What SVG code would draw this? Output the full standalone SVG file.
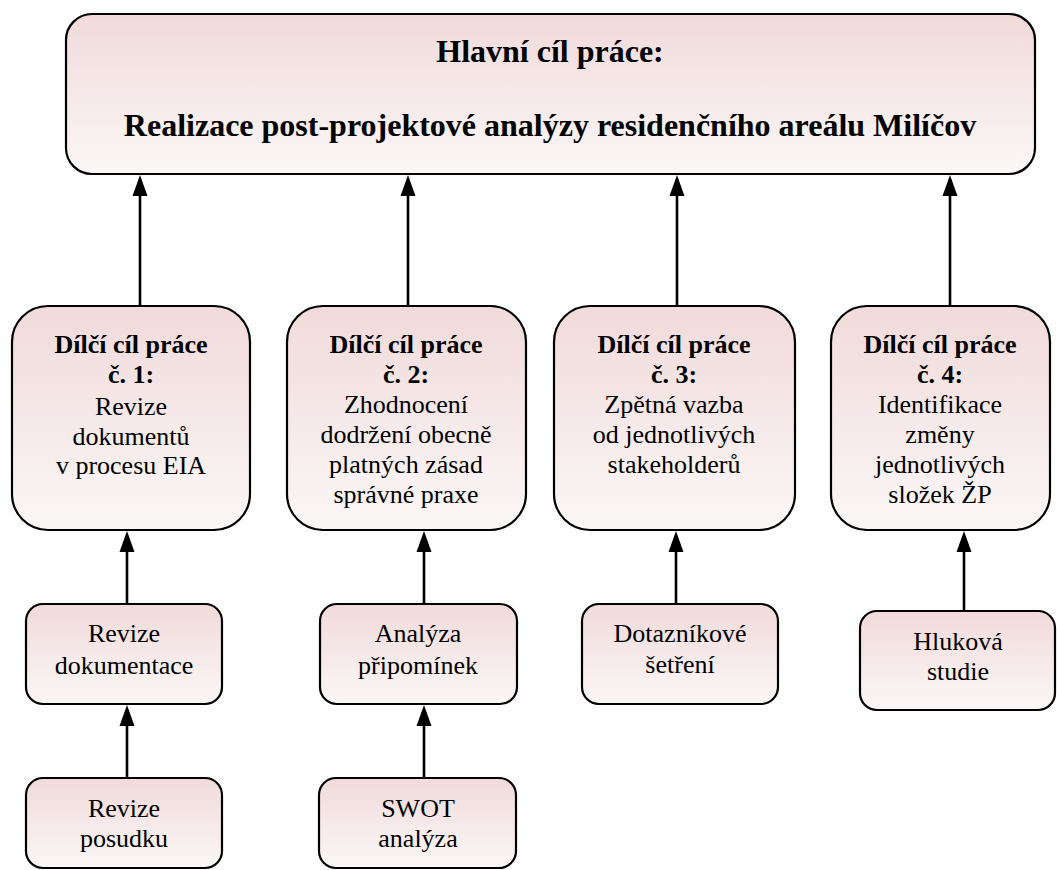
<svg xmlns="http://www.w3.org/2000/svg" width="1057" height="870" viewBox="0 0 1057 870">
<defs>
<linearGradient id="g" x1="0" y1="0" x2="0" y2="1">
<stop offset="0" stop-color="#F1DADA"/>
<stop offset="1" stop-color="#FBF7F7"/>
</linearGradient>
<marker id="ah" markerUnits="userSpaceOnUse" markerWidth="16" markerHeight="22" viewBox="0 0 16 22" refX="8" refY="1" orient="auto-start-reverse">
<path d="M8,0 L15.5,21 L0.5,21 Z" fill="#000"/>
</marker>
</defs>
<style>
.box{fill:url(#g);stroke:#000;stroke-width:2.2}
.t{font-family:"Liberation Serif","Times New Roman",serif;font-size:26px;fill:#000;text-anchor:middle}
.b{font-weight:bold}
.h{font-family:"Liberation Serif","Times New Roman",serif;font-size:32px;font-weight:bold;fill:#000;text-anchor:middle}
.c{stroke:#000;stroke-width:2.6;fill:none}
</style>
<rect width="1057" height="870" fill="#fff"/>
<g id="connectors">
<line class="c" x1="140" y1="306" x2="140" y2="196"/>
<path d="M140,175 L147.5,196 L132.5,196 Z"/>
<line class="c" x1="408" y1="306" x2="408" y2="196"/>
<path d="M408,175 L415.5,196 L400.5,196 Z"/>
<line class="c" x1="677" y1="306" x2="677" y2="196"/>
<path d="M677,175 L684.5,196 L669.5,196 Z"/>
<line class="c" x1="950" y1="306" x2="950" y2="196"/>
<path d="M950,175 L957.5,196 L942.5,196 Z"/>
<line class="c" x1="127" y1="604" x2="127" y2="552"/>
<path d="M127,531 L134.5,552 L119.5,552 Z"/>
<line class="c" x1="424" y1="604" x2="424" y2="552"/>
<path d="M424,531 L431.5,552 L416.5,552 Z"/>
<line class="c" x1="676" y1="604" x2="676" y2="552"/>
<path d="M676,531 L683.5,552 L668.5,552 Z"/>
<line class="c" x1="964" y1="611" x2="964" y2="552"/>
<path d="M964,531 L971.5,552 L956.5,552 Z"/>
<line class="c" x1="127" y1="778" x2="127" y2="726"/>
<path d="M127,705 L134.5,726 L119.5,726 Z"/>
<line class="c" x1="424" y1="778" x2="424" y2="726"/>
<path d="M424,705 L431.5,726 L416.5,726 Z"/>
</g>
<g id="main">
<rect class="box" x="66" y="14" width="969" height="160" rx="26"/>
<text class="h" x="550" y="62">Hlavní cíl práce:</text>
<text class="h" x="550" y="136">Realizace post-projektové analýzy residenčního areálu Milíčov</text>
</g>
<g id="goal1">
<rect class="box" x="12" y="306" width="238" height="224" rx="36"/>
<text class="t b" x="131" y="353">Dílčí cíl práce</text>
<text class="t b" x="131" y="383">č. 1:</text>
<text class="t" x="131" y="415">Revize</text>
<text class="t" x="131" y="445">dokumentů</text>
<text class="t" x="131" y="474">v procesu EIA</text>
</g>
<g id="goal2">
<rect class="box" x="287" y="306" width="239" height="224" rx="36"/>
<text class="t b" x="406" y="353">Dílčí cíl práce</text>
<text class="t b" x="406" y="383">č. 2:</text>
<text class="t" x="406" y="413">Zhodnocení</text>
<text class="t" x="406" y="443">dodržení obecně</text>
<text class="t" x="406" y="473">platných zásad</text>
<text class="t" x="406" y="503">správné praxe</text>
</g>
<g id="goal3">
<rect class="box" x="554" y="306" width="241" height="224" rx="36"/>
<text class="t b" x="674" y="353">Dílčí cíl práce</text>
<text class="t b" x="674" y="383">č. 3:</text>
<text class="t" x="674" y="413">Zpětná vazba</text>
<text class="t" x="674" y="443">od jednotlivých</text>
<text class="t" x="674" y="473">stakeholderů</text>
</g>
<g id="goal4">
<rect class="box" x="831" y="306" width="219" height="224" rx="36"/>
<text class="t b" x="940" y="353">Dílčí cíl práce</text>
<text class="t b" x="940" y="383">č. 4:</text>
<text class="t" x="940" y="413">Identifikace</text>
<text class="t" x="940" y="443">změny</text>
<text class="t" x="940" y="473">jednotlivých</text>
<text class="t" x="940" y="503">složek ŽP</text>
</g>
<g id="revize-dokumentace">
<rect class="box" x="26" y="604" width="196" height="100" rx="17"/>
<text class="t" x="124" y="642">Revize</text>
<text class="t" x="124" y="674">dokumentace</text>
</g>
<g id="revize-posudku">
<rect class="box" x="26" y="778" width="196" height="90" rx="17"/>
<text class="t" x="124" y="817">Revize</text>
<text class="t" x="124" y="847">posudku</text>
</g>
<g id="analyza-pripominek">
<rect class="box" x="320" y="604" width="197" height="100" rx="17"/>
<text class="t" x="418" y="642">Analýza</text>
<text class="t" x="418" y="674">připomínek</text>
</g>
<g id="swot">
<rect class="box" x="319" y="778" width="197" height="90" rx="17"/>
<text class="t" x="418" y="817">SWOT</text>
<text class="t" x="418" y="847">analýza</text>
</g>
<g id="dotaznikove">
<rect class="box" x="582" y="604" width="196" height="100" rx="17"/>
<text class="t" x="680" y="642">Dotazníkové</text>
<text class="t" x="680" y="673">šetření</text>
</g>
<g id="hlukova">
<rect class="box" x="860" y="611" width="195" height="99" rx="17"/>
<text class="t" x="958" y="650">Hluková</text>
<text class="t" x="958" y="680">studie</text>
</g>
</svg>
